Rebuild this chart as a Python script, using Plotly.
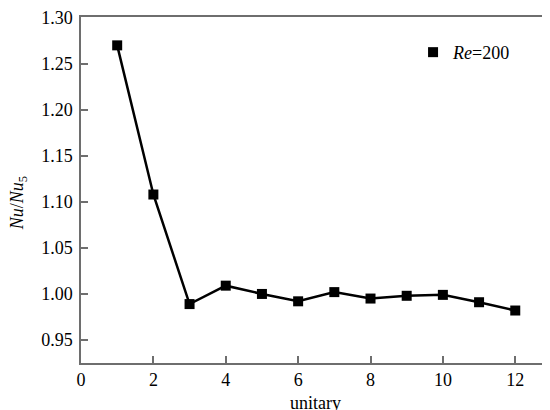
import plotly.graph_objects as go

unitary = [1, 2, 3, 4, 5, 6, 7, 8, 9, 10, 11, 12]
nu_ratio = [1.270, 1.108, 0.989, 1.009, 1.000, 0.992, 1.002, 0.995, 0.998, 0.999, 0.991, 0.982]
series_name = "<i>Re</i>=200"
x_ticks = [0, 2, 4, 6, 8, 10, 12]
y_ticks = [0.95, 1.00, 1.05, 1.10, 1.15, 1.20, 1.25, 1.30]

FONT = "Liberation Serif"
AXIS_COLOR = "#6e6e6e"
tfont = dict(family=FONT, size=18, color="black")

fig = go.Figure()
fig.add_trace(go.Scatter(
    x=unitary, y=nu_ratio, mode="lines+markers",
    line=dict(color="black", width=2.5),
    marker=dict(symbol="square", size=10, color="black"),
    showlegend=False,
))
fig.add_trace(go.Scatter(
    x=[None], y=[None], mode="markers", name=series_name,
    marker=dict(symbol="square", size=10, color="black"),
))

fig.update_layout(
    width=550, height=410,
    margin=dict(l=73, r=8, t=9, b=55),
    paper_bgcolor="white", plot_bgcolor="white",
    font=tfont,
    legend=dict(x=0.708, y=0.951, xanchor="left", yanchor="top",
                bgcolor="rgba(0,0,0,0)", font=tfont),
    xaxis=dict(
        range=[0, 12.96], tickvals=x_ticks, tickfont=tfont,
        ticks="inside", ticklen=7, tickwidth=1.5, tickcolor=AXIS_COLOR,
        showline=True, linecolor=AXIS_COLOR, linewidth=1.5, mirror=True,
        showgrid=False, zeroline=False, automargin=False,
    ),
    yaxis=dict(
        range=[0.925, 1.3008], tickvals=y_ticks, tickfont=tfont,
        tickformat=".2f",
        ticks="inside", ticklen=7, tickwidth=1.5, tickcolor=AXIS_COLOR,
        ticklabelstandoff=3,
        showline=True, linecolor=AXIS_COLOR, linewidth=1.5, mirror=False,
        showgrid=False, zeroline=False, automargin=False,
    ),
    annotations=[
        dict(
            text="<i>Nu</i>/<i>Nu</i><sub>5</sub>", textangle=-90,
            xref="paper", yref="paper", x=-0.134, y=0.462,
            xanchor="center", yanchor="middle", showarrow=False,
            font=tfont,
        ),
        dict(
            text="unitary",
            xref="paper", yref="paper", x=0.5, y=-0.1156,
            xanchor="center", yanchor="middle", showarrow=False,
            font=tfont,
        ),
    ],
)

fig.write_html("out.html")
